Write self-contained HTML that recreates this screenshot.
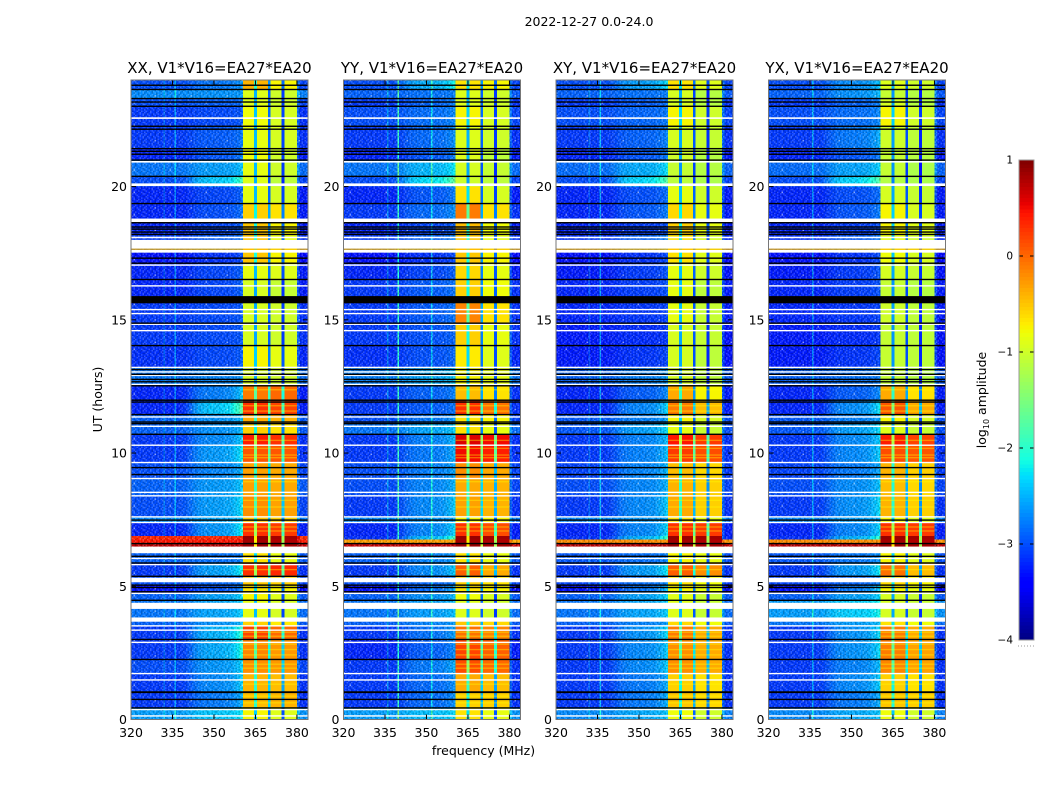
<!DOCTYPE html>
<html>
<head>
<meta charset="utf-8">
<title>2022-12-27 0.0-24.0</title>
<style>
html,body{margin:0;padding:0;background:#fff;}
svg{display:block;}
text{font-family:"DejaVu Sans","Liberation Sans",sans-serif;fill:#000;}
</style>
</head>
<body>
<svg id="figure" xmlns="http://www.w3.org/2000/svg" width="1050" height="800" viewBox="0 0 1050 800">
  <defs><pattern id="speckle" patternUnits="userSpaceOnUse" width="36" height="22.4"></pattern></defs>
  <rect x="0" y="0" width="1050" height="800" fill="#fff"/>
  <text x="589" y="26" font-size="12.5" text-anchor="middle">2022-12-27 0.0-24.0</text>
  <text x="483.5" y="755" font-size="12.5" text-anchor="middle">frequency (MHz)</text>
  <text transform="translate(102,399.5) rotate(-90)" font-size="12.5" text-anchor="middle">UT (hours)</text>
  <text transform="translate(986,400) rotate(-90)" font-size="12.5" text-anchor="middle">log<tspan font-size="8" dy="3">10</tspan><tspan dy="-3"> amplitude</tspan></text>
  <g id="panels"></g>
  <g id="colorbar"></g>
</svg>
<script>
// ---- categories ----
const panelTitles = ["XX, V1*V16=EA27*EA20", "YY, V1*V16=EA27*EA20", "XY, V1*V16=EA27*EA20", "YX, V1*V16=EA27*EA20"];
const xTickLabels = [320, 335, 350, 365, 380];
const yTickLabels = [0, 5, 10, 15, 20];
const colorbarTickLabels = [1, 0, -1, -2, -3, -4];

// frequency bin edges (MHz)
const binEdges = [320,321,322,323,324,325,326,327,328,329,330,331,331.75,332.25,333,334,335,335.75,336.25,337,338,339,339.6,340.1,341,342,343,344,345,346,347,348,349,350,351,351.6,352.1,353,354,355,356,357,358,359,360,360.5,362,363,364.5,365.5,367,368,369.5,370.5,372,373,374.5,375.5,377,378,380,381,382,383,384];

// time segment boundaries (UT hours), top to bottom
const segmentTops = [24,23.62,23.30,23.02,22.28,21.45,21.00,20.40,20.00,19.37,18.65,18.20,17.62,17.13,16.52,15.89,15.62,14.87,14.04,13.22,12.60,12.00,11.45,11.10,10.71,10.30,9.65,9.05,8.40,7.61,7.40,6.88,6.75,6.62,6.24,5.85,5.40,5.05,4.74,4.48,3.83,3.50,3.02,2.26,1.73,1.03,0.44,0];

// ---- series: log10 amplitude per time segment ----
const xxLow = [-3.0,-2.7,-3.0,-3.1,-3.1,-3.2,-2.8,-3.0,-3.2,-3.2,-3.2,-3.1,-3.3,-3.2,-3.2,-3.2,-3.1,-3.1,-3.15,-2.8,-3.2,-3.2,-2.9,-2.9,-3.1,-3.1,-3.0,-2.9,-3.0,-2.7,-3.2,0.35,0.45,0.75,-2.9,-3.1,-3.0,-3.3,-2.9,-2.8,-2.9,-3.1,-3.1,-3.0,-3.1,-3.1,-2.6];
const xxMid = [-2.75,-2.65,-2.9,-3.0,-2.9,-2.9,-2.55,-2.25,-3.0,-2.95,-3.0,-2.9,-3.1,-3.0,-3.0,-3.0,-3.0,-3.0,-3.0,-2.7,-2.65,-2.2,-2.6,-2.6,-2.6,-2.5,-2.65,-2.55,-2.5,-2.5,-2.5,0.35,0.45,0.75,-2.8,-2.45,-2.85,-2.9,-2.5,-2.5,-2.6,-2.35,-2.4,-2.55,-2.6,-2.7,-2.35];
const xxBandLower = [-0.4,-0.9,-0.9,-0.8,-0.85,-0.8,-0.85,-0.9,-0.85,-0.55,-0.5,-0.5,-0.5,-0.85,-0.95,-0.9,-0.95,-0.95,-0.75,-0.95,-0.1,0.3,-0.35,-0.55,0.4,0.1,-0.3,-0.3,-0.2,-0.5,0.3,0.9,0.85,0.9,-0.65,0.3,-0.5,-0.65,-0.75,-0.85,-0.55,0.2,-0.15,-0.2,-0.4,-0.45,-0.75];
const xxBandUpper = [-0.75,-1.0,-1.0,-0.95,-0.95,-1.0,-1.0,-1.1,-0.95,-0.65,-0.75,-0.85,-0.75,-0.9,-1.05,-1.05,-1.0,-1.0,-0.85,-1.0,0.0,0.2,-0.4,-0.65,0.3,0.1,-0.35,-0.35,-0.3,-0.55,0.25,0.85,0.8,0.85,-0.85,0.35,-0.55,-0.75,-0.9,-0.95,-0.7,0.0,-0.25,-0.25,-0.45,-0.4,-0.9];

const yyLow = [-3.0,-2.9,-3.1,-3.0,-3.1,-3.2,-2.8,-3.0,-3.2,-3.1,-3.2,-3.1,-3.3,-3.2,-3.1,-3.2,-3.1,-3.1,-3.15,-2.75,-3.1,-3.1,-3.0,-2.8,-3.1,-3.1,-3.0,-3.0,-3.1,-2.7,-3.2,-3.15,-0.3,0.7,-2.9,-3.1,-3.0,-3.3,-2.9,-2.8,-2.9,-3.1,-3.2,-3.1,-3.1,-3.1,-2.6];
const yyMid = [-2.4,-2.8,-2.85,-2.8,-2.8,-2.9,-2.4,-2.1,-2.9,-2.8,-3.0,-2.85,-3.1,-3.0,-2.9,-3.0,-2.9,-2.95,-2.95,-2.5,-2.85,-2.9,-2.75,-2.5,-2.65,-2.7,-2.7,-2.65,-2.6,-2.6,-2.6,-2.3,-0.3,0.7,-2.7,-2.6,-2.85,-2.75,-2.6,-2.55,-2.7,-2.75,-2.85,-2.7,-2.8,-2.8,-2.4];
const yyBandLower = [-0.65,-0.9,-0.9,-0.75,-0.9,-0.9,-0.95,-1.0,-0.65,-0.1,-0.45,-0.5,-0.5,-0.6,-0.55,-0.45,-0.15,-0.55,-0.7,-0.75,-0.45,0.3,-0.65,-0.65,0.6,0.5,-0.2,-0.35,-0.3,-0.75,0.3,0.9,0.85,0.9,-0.65,0.05,-0.55,-0.65,-0.8,-0.9,-0.5,-0.05,0.2,0.15,-0.35,-0.55,-0.65];
const yyBandUpper = [-0.75,-1.0,-1.0,-0.95,-1.0,-1.1,-1.05,-1.1,-0.95,-0.65,-0.8,-0.85,-0.75,-0.85,-0.8,-0.75,-0.65,-0.85,-0.9,-0.85,-0.65,-0.05,-0.75,-0.85,0.5,0.4,-0.35,-0.4,-0.4,-0.75,0.15,0.85,0.8,0.85,-0.85,-0.35,-0.65,-0.75,-0.95,-1.0,-0.6,-0.15,0.05,0.0,-0.45,-0.55,-0.85];

const xyLow = [-3.0,-2.9,-3.1,-3.0,-3.1,-3.2,-2.85,-3.0,-3.2,-3.2,-3.2,-3.15,-3.3,-3.25,-3.2,-3.2,-3.2,-3.25,-3.25,-2.9,-3.2,-3.2,-2.95,-2.95,-3.1,-3.1,-3.05,-3.0,-3.1,-2.7,-3.2,-3.15,-0.2,0.75,-2.95,-3.1,-3.05,-3.3,-2.9,-2.8,-2.9,-3.1,-3.1,-3.1,-3.1,-3.1,-2.7];
const xyMid = [-2.5,-2.8,-2.9,-2.85,-2.85,-2.9,-2.45,-2.15,-2.95,-2.9,-3.05,-2.85,-3.1,-3.05,-3.05,-3.0,-3.1,-3.15,-3.1,-2.7,-2.85,-2.6,-2.7,-2.5,-2.65,-2.65,-2.65,-2.65,-2.6,-2.6,-2.6,-2.35,-0.2,0.75,-2.8,-2.5,-2.8,-2.7,-2.5,-2.5,-2.7,-2.55,-2.6,-2.6,-2.7,-2.7,-2.5];
const xyBandLower = [-0.65,-0.95,-0.95,-0.75,-0.95,-1.0,-1.05,-1.1,-0.85,-0.6,-0.55,-0.65,-0.65,-0.85,-0.85,-0.8,-0.85,-0.95,-0.95,-0.95,-0.35,-0.1,-0.75,-0.85,0.45,0.25,-0.45,-0.4,-0.35,-0.65,0.3,0.9,0.85,0.9,-0.75,0.05,-0.65,-0.75,-0.9,-0.9,-0.6,-0.1,-0.2,-0.2,-0.55,-0.5,-0.8];
const xyBandUpper = [-0.9,-1.15,-1.15,-1.0,-1.05,-1.15,-1.15,-1.2,-1.0,-0.85,-0.85,-0.95,-0.9,-1.0,-1.1,-1.05,-1.05,-1.05,-1.1,-1.1,-0.75,-0.45,-0.95,-1.05,0.25,0.15,-0.6,-0.55,-0.55,-0.85,0.25,0.85,0.8,0.85,-0.85,-0.2,-0.8,-0.85,-1.05,-1.05,-0.8,-0.35,-0.35,-0.35,-0.65,-0.6,-1.0];

const yxLow = [-3.0,-2.9,-3.1,-3.0,-3.1,-3.2,-2.85,-3.0,-3.2,-3.2,-3.2,-3.15,-3.3,-3.25,-3.2,-3.2,-3.2,-3.25,-3.25,-2.9,-3.2,-3.2,-2.95,-2.95,-3.1,-3.1,-3.05,-3.0,-3.1,-2.7,-3.2,-3.15,-0.2,0.75,-2.95,-3.1,-3.05,-3.3,-2.9,-2.6,-2.8,-3.1,-3.1,-3.1,-3.1,-3.1,-2.7];
const yxMid = [-2.6,-2.6,-2.85,-2.8,-2.7,-2.9,-2.5,-2.15,-2.95,-2.9,-3.05,-2.9,-3.1,-3.05,-3.05,-3.0,-3.1,-3.15,-3.1,-2.8,-2.85,-2.55,-2.7,-2.5,-2.6,-2.6,-2.7,-2.6,-2.55,-2.55,-2.6,-2.35,-0.2,0.75,-2.75,-2.5,-2.85,-2.65,-2.5,-2.3,-2.55,-2.55,-2.55,-2.65,-2.6,-2.7,-2.5];
const yxBandLower = [-0.9,-1.05,-0.95,-0.75,-1.0,-1.05,-1.05,-1.15,-0.95,-0.75,-0.75,-0.85,-0.8,-0.95,-1.05,-1.0,-1.0,-1.05,-1.05,-1.05,-0.35,0.1,-0.75,-0.9,0.4,0.15,-0.4,-0.45,-0.4,-0.75,0.3,0.9,0.85,0.9,-0.75,-0.05,-0.6,-0.75,-0.95,-0.95,-0.65,-0.1,-0.1,-0.15,-0.55,-0.5,-0.8];
const yxBandUpper = [-1.0,-1.15,-1.15,-1.0,-1.1,-1.15,-1.2,-1.2,-1.05,-0.95,-0.9,-1.0,-0.95,-1.05,-1.15,-1.1,-1.1,-1.1,-1.1,-1.15,-0.65,-0.35,-0.95,-1.05,0.2,0.1,-0.55,-0.6,-0.55,-0.9,0.25,0.85,0.8,0.85,-0.9,-0.45,-0.75,-0.85,-1.05,-1.05,-0.8,-0.35,-0.3,-0.3,-0.65,-0.55,-1.0];

const lowSeries = [xxLow, yyLow, xyLow, yxLow];
const midSeries = [xxMid, yyMid, xyMid, yxMid];
const bandLowerSeries = [xxBandLower, yyBandLower, xyBandLower, yxBandLower];
const bandUpperSeries = [xxBandUpper, yyBandUpper, xyBandUpper, yxBandUpper];

// spectral shape: share of the "mid" level per MHz from 320 to 360
const midShare = [0,0,0,0,0,0,0,0,0,0,0,0,0,0,0,0,0,0,0.05,0.1,0.2,0.3,0.45,0.55,0.65,0.7,0.75,0.75,0.8,0.8,0.8,0.8,0.85,0.85,0.9,0.9,1,1.1,1.2,1.35,1.6];

// receiver passband, channel split and notch channels (MHz, depth in dex)
const passbandRange = [360.5, 380];
const channelSplit = 370;
const notchFreqs = [365, 370, 375];
const notchDepths = [-1.6, -1.9, -2.1];

// narrow-band interference per panel (MHz, boost in dex)
const rfiFreqs = [[332, 336], [336, 339.85, 351.85], [332, 336], [336]];
const rfiBoosts = [[0.25, 0.5], [0.4, 1.1, 0.6], [0.25, 0.6], [0.55]];

// flagged time ranges (UT hours)
const whiteFlagRanges = [[22.54,22.6],[20.9,20.96],[20.02,20.12],[18.65,18.8],[18.06,18.12],[17.67,18.0],[17.52,17.62],[17.03,17.08],[16.25,16.3],[15.37,15.41],[15.22,15.26],[14.82,14.86],[14.58,14.62],[13.2,13.24],[13.03,13.07],[12.9,12.94],[12.56,12.6],[11.34,11.38],[10.99,11.03],[10.28,10.32],[9.63,9.67],[9.03,9.07],[8.51,8.55],[8.38,8.42],[7.59,7.63],[7.38,7.42],[6.24,6.49],[6.03,6.07],[5.8,5.84],[5.15,5.32],[4.72,4.76],[4.15,4.38],[3.67,3.83],[3.5,3.54],[3.34,3.38],[2.88,2.92],[1.71,1.75],[1.46,1.51],[0.36,0.4],[0.12,0.16]];
const blackFlagRanges = [[23.79,23.83],[23.63,23.67],[23.29,23.33],[23.16,23.2],[23.0,23.04],[22.25,22.29],[22.14,22.18],[21.41,21.45],[21.31,21.35],[21.2,21.24],[20.98,21.02],[20.37,20.41],[19.35,19.39],[18.63,18.67],[18.47,18.51],[18.39,18.43],[18.28,18.32],[18.19,18.23],[17.3,17.34],[17.11,17.15],[16.5,16.54],[15.62,15.89],[14.86,14.9],[14.02,14.06],[13.12,13.16],[12.94,12.98],[12.75,12.79],[12.66,12.7],[12.51,12.55],[11.97,12.01],[11.9,11.94],[11.43,11.47],[11.15,11.19],[11.09,11.13],[10.69,10.73],[9.44,9.48],[9.18,9.22],[7.47,7.51],[6.59,6.63],[6.11,6.15],[5.86,5.9],[5.36,5.4],[5.03,5.07],[4.94,4.98],[4.78,4.82],[4.46,4.5],[2.99,3.03],[2.24,2.28],[0.99,1.06],[0.74,0.78],[0.42,0.46]];
const accentRowRanges = [[17.63,17.67]];
const accentRowLevels = [-0.45];

// thin horizontal ripple rows inside the passband (UT hours)
const bandStripeRanges = [[12.35,12.4],[11.75,11.8],[11.55,11.6],[10.45,10.5],[10.15,10.2],[9.9,9.95],[9.8,9.85],[8.9,8.95],[8.2,8.25],[7.95,8.0],[7.2,7.25],[7.05,7.1],[5.6,5.65],[3.25,3.3],[3.1,3.15],[2.8,2.85],[2.6,2.65],[2.4,2.45],[2.05,2.1],[1.9,1.95],[1.3,1.35],[0.85,0.9],[0.6,0.65]];

// hand-drawn receiver-noise texture tile: + lighter, - darker, . unchanged, * bright speck
const noiseTile = [
  "+.-.+..-+.-..+-.+..-.+.-",
  ".-+..-+..+.-+..-.+-..+.+",
  "-..+.-.+-..+.-+..-+.-..+",
  ".+-..+..-+.-..+-.+..-+.-",
  "+..-+.-*..-+.-..+.-+..-.",
  "-+..-.+.-+..+-.+..-.+.-+",
  "..-+.+-..+-..+.-+.-..+-.",
  "+-..-+..-.+.-..+.-+..-.+",
  ".+.-..+-+..-+.-..+.-+..-",
  "-..+-.+..-+..-+.-*..-.+.",
  "+.-..+-.+.-.+..-+.+-..-+",
  ".-+.-..+..-+-.+..-.+.-..",
  "-+..+.-+.-..+..-+.-.+..-",
  "..+-.+..-+.-.-+..+-..-+.",
  "+-..-.+-..+.+..-.+.-+..-",
  ".+.-+..-.+-..-+.-..+.-+."
];

// ---- axis functions ----
const panelWidth = 177;
const plotTop = 80;
const plotBottom = 719.5;
const panelGap = 212.5;
const firstPanelLeft = 131;
function xScale(panelIndex, mhz) {
  return firstPanelLeft + panelIndex * panelGap + (mhz - 320) / 64 * panelWidth;
}
function yScale(hours) {
  return plotBottom - hours / 24 * (plotBottom - plotTop);
}
const barTop = 160;
const barBottom = 640;
function barScale(level) {
  return barBottom - (level + 4) / 5 * (barBottom - barTop);
}

function jetChannel(t, stops) {
  for (let i = 1; i < stops.length; i++) {
    if (t <= stops[i][0]) {
      const a = stops[i - 1];
      const b = stops[i];
      return a[1] + (b[1] - a[1]) * (t - a[0]) / (b[0] - a[0]);
    }
  }
  return stops[stops.length - 1][1];
}
const jetRed = [[0,0],[0.35,0],[0.66,1],[0.89,1],[1,0.5]];
const jetGreen = [[0,0],[0.125,0],[0.375,1],[0.64,1],[0.91,0],[1,0]];
const jetBlue = [[0,0.5],[0.11,1],[0.34,1],[0.65,0],[1,0]];
function levelColor(level) {
  const t = Math.max(0, Math.min(1, (level + 4) / 5));
  const r = Math.round(255 * jetChannel(t, jetRed));
  const g = Math.round(255 * jetChannel(t, jetGreen));
  const b = Math.round(255 * jetChannel(t, jetBlue));
  return "rgb(" + r + "," + g + "," + b + ")";
}

const SVG_NS = "http://www.w3.org/2000/svg";
function makeShape(tag, parent) {
  const el = document.createElementNS(SVG_NS, tag);
  parent.appendChild(el);
  return el;
}
function place(el, x, y, w, h) {
  el.setAttribute("x", x.toFixed(2));
  el.setAttribute("y", y.toFixed(2));
  el.setAttribute("width", w.toFixed(2));
  el.setAttribute("height", h.toFixed(2));
}

// noise texture pattern
const speckle = document.getElementById("speckle");
noiseTile.forEach(function (rowText, r) {
  rowText.split("").forEach(function (mark, c) {
    if (mark === ".") return;
    const dot = makeShape("rect", speckle);
    
    
    place(dot, c * 1.5, r * 1.4, 1.5, 1.4);
    dot.setAttribute("fill", mark === "-" ? "#000" : "#fff");
    dot.setAttribute("fill-opacity", mark === "*" ? "0.55" : "0.2");
  });
});

function cellLevel(panelIndex, segIndex, mhzCenter) {
  const low = lowSeries[panelIndex][segIndex];
  const mid = midSeries[panelIndex][segIndex];
  if (mhzCenter >= passbandRange[0] && mhzCenter < passbandRange[1]) {
    let level = mhzCenter < channelSplit ? bandLowerSeries[panelIndex][segIndex] : bandUpperSeries[panelIndex][segIndex];
    for (let n = 0; n < notchFreqs.length; n++) {
      if (Math.abs(mhzCenter - notchFreqs[n]) < 0.6) {
        level += notchDepths[n];
      }
    }
    return level;
  }
  if (mhzCenter >= passbandRange[1]) {
    return low + (mhzCenter < 381 ? 0.2 : -0.05);
  }
  const share = midShare[Math.min(midShare.length - 1, Math.max(0, Math.floor(mhzCenter - 320)))];
  let level = low + share * (mid - low);
  const rfi = rfiFreqs[panelIndex];
  for (let n = 0; n < rfi.length; n++) {
    if (Math.abs(mhzCenter - rfi[n]) < 0.3 && low < -1) {
      level += rfiBoosts[panelIndex][n];
    }
  }
  return level;
}

const panelsGroup = document.getElementById("panels");
panelTitles.forEach(function (title, p) {
  const left = xScale(p, 320);
  const right = xScale(p, 384);

  const panel = makeShape("g", panelsGroup);
  
  

  const heat = makeShape("g", panel);
  
  
  heat.setAttribute("shape-rendering", "crispEdges");

  for (let s = 0; s < segmentTops.length - 1; s++) {
    const y0 = yScale(segmentTops[s]);
    const y1 = yScale(segmentTops[s + 1]);
    for (let b = 0; b < binEdges.length - 1; b++) {
      const f0 = binEdges[b];
      const f1 = binEdges[b + 1];
      const cell = makeShape("rect", heat);
      
      
      place(cell, xScale(p, f0), y0, xScale(p, f1) - xScale(p, f0) + 0.4, y1 - y0 + 0.4);
      cell.setAttribute("fill", levelColor(cellLevel(p, s, (f0 + f1) / 2)));
    }
  }

  const noiseLeft = makeShape("rect", panel);
  
  
  place(noiseLeft, left, plotTop, xScale(p, passbandRange[0]) - left, plotBottom - plotTop);
  noiseLeft.setAttribute("fill", "url(#speckle)");

  const noiseRight = makeShape("rect", panel);
  
  
  place(noiseRight, xScale(p, passbandRange[1]), plotTop, right - xScale(p, passbandRange[1]), plotBottom - plotTop);
  noiseRight.setAttribute("fill", "url(#speckle)");

  bandStripeRanges.forEach(function (range) {
    const stripe = makeShape("rect", panel);
    
    
    place(stripe, xScale(p, passbandRange[0]), yScale(range[1]), xScale(p, passbandRange[1]) - xScale(p, passbandRange[0]), yScale(range[0]) - yScale(range[1]));
    stripe.setAttribute("fill", "#ff0");
    stripe.setAttribute("fill-opacity", "0.4");
  });

  whiteFlagRanges.forEach(function (range) {
    const flag = makeShape("rect", panel);
    
    
    place(flag, left, yScale(range[1]), panelWidth, Math.max(1.4, yScale(range[0]) - yScale(range[1])));
    flag.setAttribute("fill", "#fff");
  });
  accentRowRanges.forEach(function (range, i) {
    const row = makeShape("rect", panel);
    
    
    place(row, left, yScale(range[1]), panelWidth, Math.max(1, yScale(range[0]) - yScale(range[1])));
    row.setAttribute("fill", levelColor(accentRowLevels[i]));
  });
  blackFlagRanges.forEach(function (range) {
    const flag = makeShape("rect", panel);
    
    
    place(flag, left, yScale(range[1]), panelWidth, Math.max(1.4, yScale(range[0]) - yScale(range[1])));
    flag.setAttribute("fill", "#000");
  });

  xTickLabels.forEach(function (tick) {
    const x = xScale(p, tick);
    const bottomTick = makeShape("line", panel);
    
    
    bottomTick.setAttribute("x1", x);
    bottomTick.setAttribute("x2", x);
    bottomTick.setAttribute("y1", plotBottom);
    bottomTick.setAttribute("y2", plotBottom - 5);
    bottomTick.setAttribute("stroke", "#000");
    const topTick = makeShape("line", panel);
    
    
    topTick.setAttribute("x1", x);
    topTick.setAttribute("x2", x);
    topTick.setAttribute("y1", plotTop);
    topTick.setAttribute("y2", plotTop + 5);
    topTick.setAttribute("stroke", "#000");
    const label = makeShape("text", panel);
    
    
    label.setAttribute("x", x);
    label.setAttribute("y", 737);
    label.setAttribute("font-size", "12.5");
    label.setAttribute("text-anchor", "middle");
    label.textContent = String(tick);
  });

  yTickLabels.forEach(function (tick) {
    const y = yScale(tick);
    const leftTick = makeShape("line", panel);
    
    
    leftTick.setAttribute("x1", left);
    leftTick.setAttribute("x2", left + 5);
    leftTick.setAttribute("y1", y);
    leftTick.setAttribute("y2", y);
    leftTick.setAttribute("stroke", "#000");
    const rightTick = makeShape("line", panel);
    
    
    rightTick.setAttribute("x1", right - 5);
    rightTick.setAttribute("x2", right);
    rightTick.setAttribute("y1", y);
    rightTick.setAttribute("y2", y);
    rightTick.setAttribute("stroke", "#000");
    const label = makeShape("text", panel);
    
    
    label.setAttribute("x", left - 4);
    label.setAttribute("y", y + 4.5);
    label.setAttribute("font-size", "12.5");
    label.setAttribute("text-anchor", "end");
    label.textContent = String(tick);
  });

  const frame = makeShape("rect", panel);
  
  
  place(frame, left, plotTop, panelWidth, plotBottom - plotTop);
  frame.setAttribute("fill", "none");
  frame.setAttribute("stroke", "#777");
  frame.setAttribute("stroke-width", "1");

  const heading = makeShape("text", panel);
  
  
  heading.setAttribute("x", (left + right) / 2);
  heading.setAttribute("y", 73);
  heading.setAttribute("font-size", "15");
  heading.setAttribute("text-anchor", "middle");
  heading.textContent = title;
});

// ---- colorbar ----
const barGroup = document.getElementById("colorbar");
const barLeft = 1019;
const barRight = 1034;
const colorbarSteps = [];
for (let i = 0; i < 128; i++) {
  colorbarSteps.push(-4 + 5 * i / 128);
}
colorbarSteps.forEach(function (level) {
  const slice = makeShape("rect", barGroup);
  
  
  place(slice, barLeft, barScale(level + 5 / 128), barRight - barLeft, barScale(level) - barScale(level + 5 / 128) + 0.5);
  slice.setAttribute("fill", levelColor(level + 2.5 / 128));
  slice.setAttribute("shape-rendering", "crispEdges");
});
colorbarTickLabels.forEach(function (tick) {
  const y = barScale(tick);
  const leftTick = makeShape("line", barGroup);
  
  
  leftTick.setAttribute("x1", barLeft);
  leftTick.setAttribute("x2", barLeft + 4);
  leftTick.setAttribute("y1", y);
  leftTick.setAttribute("y2", y);
  leftTick.setAttribute("stroke", "#000");
  const rightTick = makeShape("line", barGroup);
  
  
  rightTick.setAttribute("x1", barRight - 4);
  rightTick.setAttribute("x2", barRight);
  rightTick.setAttribute("y1", y);
  rightTick.setAttribute("y2", y);
  rightTick.setAttribute("stroke", "#000");
  const label = makeShape("text", barGroup);
  
  
  label.setAttribute("x", barLeft - 6);
  label.setAttribute("y", y + 3.5);
  label.setAttribute("font-size", "10.5");
  label.setAttribute("text-anchor", "end");
  label.textContent = String(tick).replace("-", "\u2212");
});
const barFrame = makeShape("rect", barGroup);


place(barFrame, barLeft, barTop, barRight - barLeft, barBottom - barTop);
barFrame.setAttribute("fill", "none");
barFrame.setAttribute("stroke", "#999");
const barDots = makeShape("line", barGroup);


barDots.setAttribute("x1", barLeft - 1);
barDots.setAttribute("x2", barRight);
barDots.setAttribute("y1", 646);
barDots.setAttribute("y2", 646);
barDots.setAttribute("stroke", "#999");
barDots.setAttribute("stroke-dasharray", "1 2");
</script>
</body>
</html>
